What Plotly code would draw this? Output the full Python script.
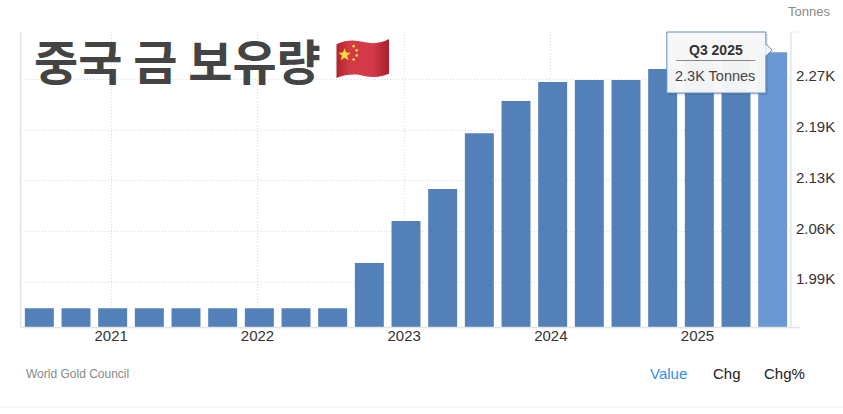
import base64
import plotly.graph_objects as go

quarters = ["Q3 2020","Q4 2020","Q1 2021","Q2 2021","Q3 2021","Q4 2021","Q1 2022","Q2 2022","Q3 2022","Q4 2022",
            "Q1 2023","Q2 2023","Q3 2023","Q4 2023","Q1 2024","Q2 2024","Q3 2024","Q4 2024","Q1 2025","Q2 2025","Q3 2025"]
values = [1953,1953,1953,1953,1953,1953,1953,1953,1953,2015.5,
          2073.6,2118,2195,2239.6,2266,2268.6,2268.6,2284,2296,2302,2307]
year_labels = ["2021","2022","2023","2024","2025"]
year_positions = [1.96,5.95,9.95,13.95,17.95]
value_ticks = [1989,2059,2129,2199,2270,2335]
value_labels = ["1.99K","2.06K","2.13K","2.19K","2.27K",""]

W, H = 843, 414
L, R, T, B = 21.2, 790.8, 32, 327
GRID = "#dadada"
AXIS = "#e4e4e4"
TXT = "#333333"
SANS = "Liberation Sans, Arial, sans-serif"

def px(x): return (x - L) / (R - L)
def py(y): return (B - y) / (B - T)

colors = ["#5380b9"] * (len(values) - 1) + ["#6a98d4"]
fig = go.Figure(go.Bar(x=list(range(len(values))), y=values, hovertext=quarters,
                       marker=dict(color=colors, line=dict(width=0)), width=0.79, hoverinfo="text"))

fig.update_layout(
    width=W, height=H, autosize=False, showlegend=False,
    margin=dict(l=L, r=W - R, t=T, b=H - B, pad=0),
    paper_bgcolor="white", plot_bgcolor="white", font=dict(family=SANS, color=TXT),
    bargap=0.21,
)
fig.update_xaxes(range=[-0.5, 20.5], tickmode="array", tickvals=year_positions, ticktext=year_labels,
                 showgrid=True, gridcolor=GRID, griddash="1px,2px", gridwidth=1, showline=False, zeroline=False,
                 ticks="", ticklabelstandoff=-2, tickfont=dict(size=15, color=TXT, family=SANS))
fig.update_yaxes(side="right", range=[1927, 2335], tickmode="array", tickvals=value_ticks, ticktext=value_labels,
                 showgrid=True, gridcolor=GRID, griddash="1px,2px", gridwidth=1, showline=False, zeroline=False,
                 ticks="", showticklabels=False)

def seg(x0, y0, x1, y1, color, width=1, dash="solid"):
    return dict(type="line", xref="paper", yref="paper", x0=px(x0), x1=px(x1), y0=py(y0), y1=py(y1),
                line=dict(color=color, width=width, dash=dash), layer="above")

def box(x0, y0, x1, y1, fill, line=None):
    return dict(type="rect", xref="paper", yref="paper", x0=px(x0), x1=px(x1), y0=py(y0), y1=py(y1),
                fillcolor=fill, line=dict(color=line or "rgba(0,0,0,0)", width=1 if line else 0), layer="above")

shapes = [
    seg(20.7, 32, 20.7, 327, AXIS, 1.5),
    seg(790.7, 32, 790.7, 327, AXIS, 1.5),
    seg(20.7, 327.5, 800, 327.5, AXIS, 1.5),
    seg(790, 32, 800, 32, GRID, 1, "1px,2px"),
    seg(0, 407, W, 407, "#f0f0f0", 1),
    box(668, 34, 767.5, 95, "rgba(0,0,0,0.10)"),
    box(666.7, 32, 765.7, 93, "rgba(247,247,247,0.97)", "#5f8cc4"),
    dict(type="path", xref="paper", yref="paper",
         path=f"M {px(765.7)} {py(44)} L {px(772)} {py(50)} L {px(765.7)} {py(56)} Z",
         fillcolor="#f7f7f7", line=dict(color="#5f8cc4", width=1), layer="above"),
    seg(765.7, 44.7, 765.7, 55.3, "#f7f7f7", 1.5),
    seg(676, 60.5, 755, 60.5, "#888888", 1),
]
fig.update_layout(shapes=shapes)

def note(x, y, text, size, color=TXT, anchor="center", family=SANS):
    fig.add_annotation(xref="paper", yref="paper", x=px(x), y=py(y), text=text, showarrow=False,
                       xanchor=anchor, yanchor="middle", font=dict(size=size, color=color, family=family), borderpad=0, borderwidth=0)

for v, lab in zip(value_ticks, value_labels):
    if lab:
        fig.add_annotation(xref="paper", yref="y", x=px(794.5), y=v, yshift=3.5, text=lab, showarrow=False,
                           xanchor="left", yanchor="middle", font=dict(size=15, color=TXT, family=SANS), borderpad=0)

note(34, 59, "<b>중국 금 보유량</b>", 48, "#444444", "left", "Noto Sans CJK KR")
note(830, 11, "Tonnes", 13, "#8a8a8a", "right")
note(716, 50, "<b>Q3 2025</b>", 14, "#333333")
note(715, 76, "2.3K Tonnes", 14.5, "#444444")
note(26, 373.5, "World Gold Council", 12, "#888888", "left")
note(668.5, 373.5, "Value", 15, "#2e8fee")
note(727, 373.5, "Chg", 15, "#222222")
note(784, 373.5, "Chg%", 15, "#222222")

flag_svg = """<svg xmlns="http://www.w3.org/2000/svg" viewBox="0 0 54 40">
<defs><linearGradient id="g" x1="0" x2="1" y1="0" y2="0">
<stop offset="0" stop-color="#b3242c"/><stop offset="0.25" stop-color="#d23a46"/>
<stop offset="0.7" stop-color="#d4394a"/><stop offset="1" stop-color="#a81f28"/></linearGradient></defs>
<path d="M1 6 C12 1 20 2 28 4 C38 6 46 5 53 1 L53 35 C46 38 38 39 28 37 C20 35 12 35 1 39 Z" fill="url(#g)"/>
<polygon points="9,10 10.6,14.2 15,14.4 11.6,17.2 12.8,21.6 9,19.2 5.2,21.6 6.4,17.2 3,14.4 7.4,14.2" fill="#f3dc3a"/>
<circle cx="18" cy="8" r="1.3" fill="#f3dc3a"/><circle cx="21" cy="12" r="1.3" fill="#f3dc3a"/>
<circle cx="21" cy="17" r="1.3" fill="#f3dc3a"/><circle cx="18" cy="21" r="1.3" fill="#f3dc3a"/>
</svg>"""
flag_src = "data:image/svg+xml;base64," + base64.b64encode(flag_svg.encode()).decode()
fig.add_layout_image(dict(source=flag_src, xref="paper", yref="paper", x=px(335.5), y=py(38), sizex=px(390) - px(335.5),
                          sizey=py(38) - py(79), xanchor="left", yanchor="top", sizing="stretch", layer="above"))

fig.write_html("out.html", config={"displayModeBar": False},
               post_script="document.body.style.margin='0';document.body.style.overflow='hidden';")
